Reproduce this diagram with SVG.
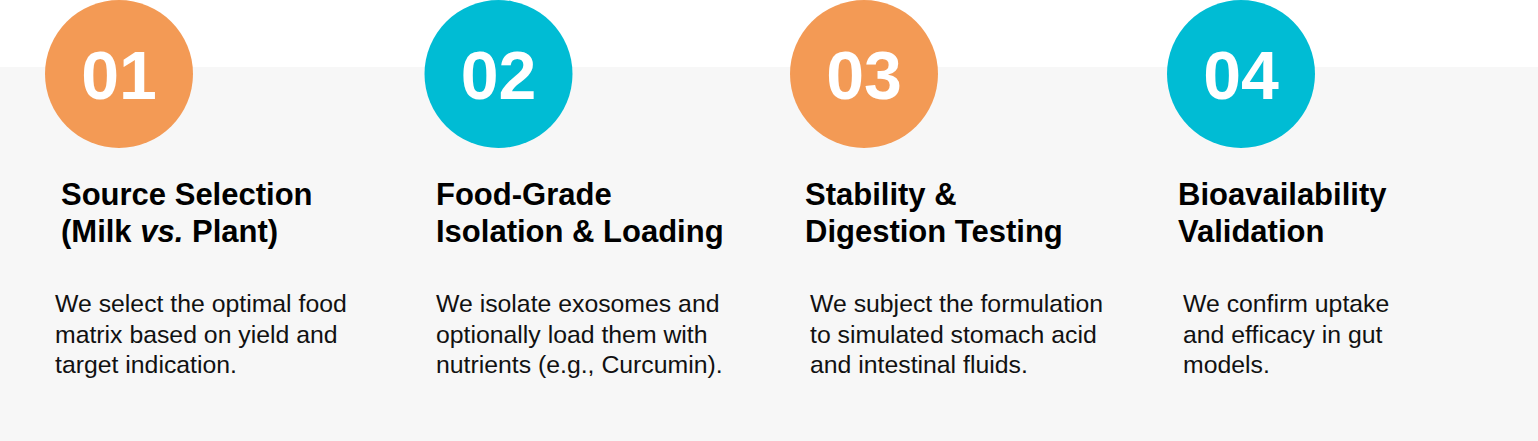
<svg xmlns="http://www.w3.org/2000/svg" width="1538" height="441" viewBox="0 0 1538 441">
<style>
.num{font-family:"Liberation Sans",Arial,sans-serif;font-weight:bold;font-size:68px;fill:#ffffff;text-anchor:middle}
.ttl{font-family:"Liberation Sans",Arial,sans-serif;font-weight:bold;font-size:31px;fill:#000000}
.body{font-family:"Liberation Sans",Arial,sans-serif;font-size:24.8px;fill:#111111}
.orange{fill:#F39A55}
.cyan{fill:#00BCD4}
</style>
<rect x="0" y="0" width="1538" height="441" fill="#ffffff"/>
<rect x="0" y="67" width="1538" height="374" fill="#F7F7F7"/>
<g id="connectors"></g>
<g id="step1">
<circle class="orange" cx="119" cy="74" r="74"/>
<text class="num" x="119" y="99">01</text>
<text class="ttl" x="61" y="205">Source Selection</text>
<text class="ttl" x="61" y="242">(Milk <tspan font-style="italic">vs.</tspan> Plant)</text>
<text class="body" x="55" y="312">We select the optimal food</text>
<text class="body" x="55" y="342.5">matrix based on yield and</text>
<text class="body" x="55" y="372.5">target indication.</text>
</g>
<g id="step2">
<circle class="cyan" cx="498.5" cy="74" r="74"/>
<text class="num" x="498.5" y="99">02</text>
<text class="ttl" x="436" y="205">Food-Grade</text>
<text class="ttl" x="436" y="242">Isolation &amp; Loading</text>
<text class="body" x="436" y="312">We isolate exosomes and</text>
<text class="body" x="436" y="342.5">optionally load them with</text>
<text class="body" x="436" y="372.5">nutrients (e.g., Curcumin).</text>
</g>
<g id="step3">
<circle class="orange" cx="864" cy="74" r="74"/>
<text class="num" x="864" y="99">03</text>
<text class="ttl" x="805" y="205">Stability &amp;</text>
<text class="ttl" x="805" y="242">Digestion Testing</text>
<text class="body" x="810" y="312">We subject the formulation</text>
<text class="body" x="810" y="342.5">to simulated stomach acid</text>
<text class="body" x="810" y="372.5">and intestinal fluids.</text>
</g>
<g id="step4">
<circle class="cyan" cx="1241" cy="74" r="74"/>
<text class="num" x="1241" y="99">04</text>
<text class="ttl" x="1178" y="205">Bioavailability</text>
<text class="ttl" x="1178" y="242">Validation</text>
<text class="body" x="1183" y="312">We confirm uptake</text>
<text class="body" x="1183" y="342.5">and efficacy in gut</text>
<text class="body" x="1183" y="372.5">models.</text>
</g>
</svg>
